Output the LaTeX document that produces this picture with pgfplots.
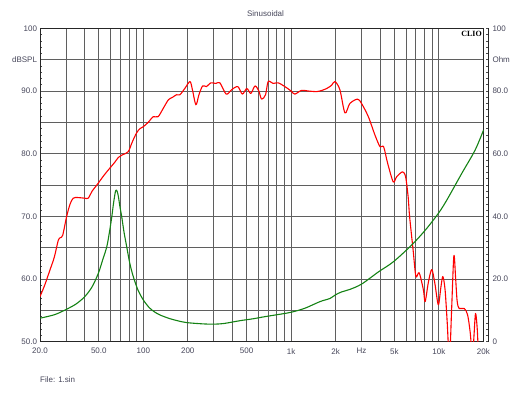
\documentclass[border=0pt]{standalone}
\usepackage{fontspec}
\setmainfont{Liberation Sans}
\newfontfamily\seriffont{Liberation Serif}
\usepackage{pgfplots}
\pgfplotsset{compat=1.18}
\definecolor{txt}{RGB}{70,70,90}
\definecolor{gridc}{RGB}{95,95,95}
\definecolor{spl}{RGB}{255,0,0}
\definecolor{imp}{RGB}{20,130,20}
\newcommand{\lblfont}{\fontsize{8bp}{9.6bp}\selectfont}
\begin{document}
\begin{tikzpicture}
\path[use as bounding box] (0bp,0bp) rectangle (530bp,398bp);
\begin{axis}[
  at={(40bp,56.3bp)}, anchor=south west,
  scale only axis, width=443.3bp, height=313.4bp,
  xmode=log, xmin=20, xmax=20000, ymin=50, ymax=100,
  axis line style={draw=black!85, line width=0.9bp},
  xtick={20,50,100,200,500,1000,2000,3000,5000,10000,20000},
  xticklabels={20.0,50.0,100,200,500,1k,2k,Hz,5k,10k,20k},
  minor xtick={30,40,60,70,80,90,300,400,600,700,800,900,3000,4000,6000,7000,8000,9000},
  xtick pos=bottom, ytick pos=left,
  xmajorgrids, xminorgrids, ymajorgrids,
  major grid style={draw=gridc, line width=0.9bp},
  minor grid style={draw=gridc, line width=0.9bp},
  ytick={50,55,...,100},
  yticklabels={50.0,,60.0,,70.0,,80.0,,90.0,dBSPL,100},
  minor ytick={51,52,53,54,56,57,58,59,61,62,63,64,66,67,68,69,71,72,73,74,76,77,78,79,81,82,83,84,86,87,88,89,91,92,93,94,96,97,98,99},
  xtick style={draw=none},
  ytick style={draw=black!70, line width=0.6bp},
  tick align=inside,
  major tick length=0bp, minor tick length=2.5bp,
  xticklabel style={font=\lblfont, text=txt, yshift=-3bp},
  yticklabel style={font=\lblfont, text=txt, xshift=0.5bp},
  clip=true,
]
\addplot[spl, line width=1.1bp, line join=round, smooth, tension=0.5] coordinates {
(20,57.2) (21.5,59.0) (23.4,61.5) (25,63.5) (26.6,66.2) (27.5,66.6) (28.5,67.0)
(30.3,70.0) (32,72.0) (33.6,72.9) (36,73.0) (40,72.9) (42.4,72.9) (45,74.0)
(49.6,75.3) (54,76.5) (59.4,77.7) (64,78.6) (67.8,79.4) (72,79.8) (79,80.3)
(84,81.8) (90,83.3) (95,84.0) (100,84.3) (108,85.0) (116.8,85.9) (126,85.9)
(137,87.3) (148,88.6) (158,89.0) (168,89.4) (177,89.4) (191,90.4) (207,91.5)
(215,90.2) (227,87.8) (238,89.4) (252,90.8) (268,90.7) (286,91.3) (310,91.2)
(330,91.3) (364,89.5) (396,90.2) (436,90.7) (468,89.5) (502,90.4) (534,89.6)
(570,90.8) (605,90.0) (632,88.7) (672,89.4) (700,91.5) (756,91.2) (818,91.3)
(908,90.7) (1000,90.0) (1060,89.5) (1178,90.1) (1300,90.0) (1490,89.9)
(1620,90.1) (1744,90.4) (1880,90.9) (1982,91.5) (2140,90.2) (2316,86.5)
(2500,88.0) (2816,88.7) (3000,88.0) (3334,85.9) (3692,83.0) (4000,81.1)
(4230,81.1) (4500,78.5) (4914,75.5) (5180,76.3) (5680,77.1) (5960,76.3)
(6200,73.1) (6340,70.0) (6700,64.6) (7000,60.4) (7360,61.0) (7860,58.3)
(8080,56.4) (8500,59.5) (8960,61.5) (9400,59.3) (9920,55.9) (10300,58.5)
(10640,60.4) (11020,58.3) (11400,53) (11800,47) (12200,55) (12640,63.7)
(13000,60) (13300,56.5) (13720,55.3) (14860,55.3) (15650,54.3) (16300,51.5)
(16900,47.5) (17300,51) (17720,54.5) (18200,52) (18600,47)
};
\end{axis}
\begin{axis}[
  at={(40bp,56.3bp)}, anchor=south west,
  scale only axis, width=448bp, height=313.4bp,
  xmode=log, xmin=20, xmax=21460, ymin=0, ymax=100,
  axis x line=none, axis y line*=right,
  axis line style={draw=black!85, line width=0.9bp},
  ytick={0,20,40,60,80,90,100},
  yticklabels={0,20.0,40.0,60.0,80.0,Ohm,100},
  minor ytick={2,4,...,98},
  tick align=inside,
  ytick style={draw=black!70, line width=0.6bp},
  major tick length=2.5bp, minor tick length=2.5bp,
  yticklabel style={font=\lblfont, text=txt, xshift=1bp},
]
\addplot[imp, line width=1.1bp, line join=round, smooth, tension=0.5] coordinates {
(20,7.5) (25,8.6) (29.5,10.1) (35,12.0) (40.2,14.4) (45,17.5) (49.6,21.8)
(53,26) (56.6,30.3) (59,35) (61.2,39.9) (63,44.5) (65,48.2) (66.5,48.0)
(67.8,46.3) (69.5,43) (71.4,39.9) (74,35) (77.2,30.3) (81,25) (85.6,20.7)
(92,16.5) (100,13.3) (110,10.8) (120,9.4) (130,8.5) (150,7.4) (170,6.7) (196,6.1)
(250,5.7) (298,5.6) (350,5.8) (450,6.7) (550,7.3) (666,8.0) (800,8.6)
(1000,9.4) (1242,10.7) (1568,12.8) (1832,13.8) (2000,15.0) (2200,15.9)
(2500,16.7) (3000,18.4) (3900,22.3) (4914,25.5) (6520,30.8) (8080,35.6)
(9920,41.0) (11300,45.2) (14260,53.7) (17540,61.1) (20000,67.5)
};
\end{axis}
\node[font=\lblfont, text=txt] at (265.5bp,384bp) {Sinusoidal};
\node[font=\lblfont, text=txt, anchor=west, inner sep=0pt] at (40bp,18bp) {File: 1.sin};
\node[font=\seriffont\bfseries\fontsize{8bp}{9bp}\selectfont, anchor=east, inner sep=0pt] at (482bp,364bp) {CLIO};
\end{tikzpicture}
\end{document}
